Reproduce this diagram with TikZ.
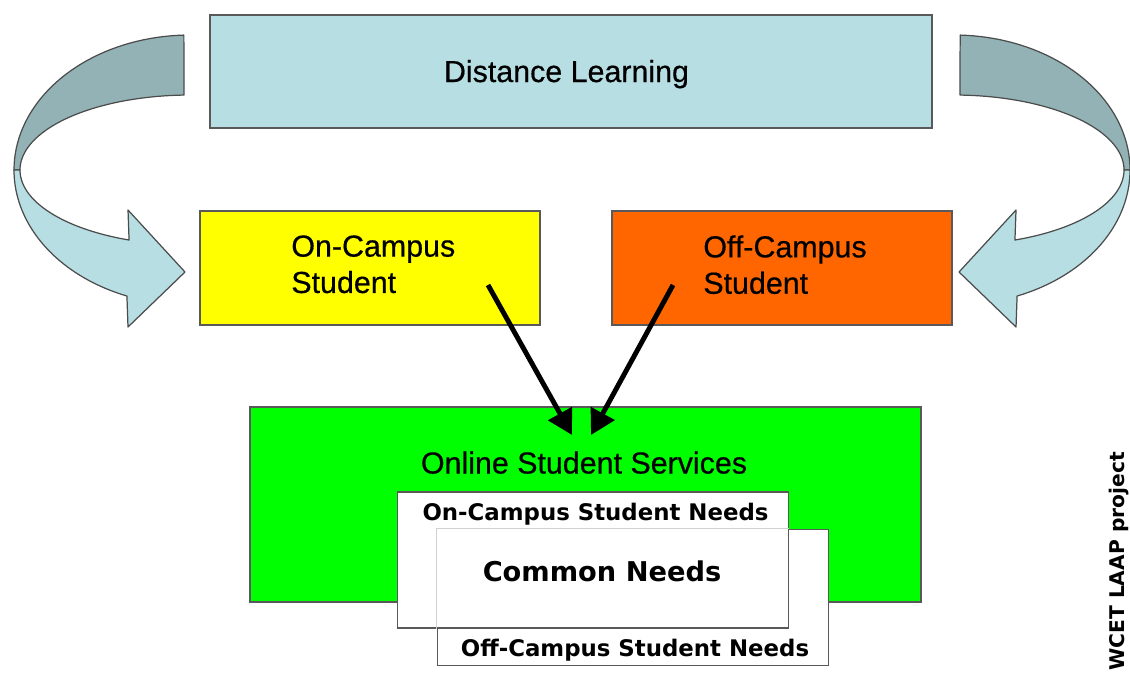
\documentclass[tikz,border=0pt]{standalone}
\usepackage{fontspec}
\setmainfont{Liberation Sans}[FakeBold=0.5]
\newfontfamily\verdfont{DejaVu Sans}
\usetikzlibrary{positioning}
\usetikzlibrary{arrows.meta}
\definecolor{paleblue}{RGB}{183,222,227}
\definecolor{darkband}{RGB}{146,178,182}
\definecolor{campusyellow}{RGB}{255,255,0}
\definecolor{campusorange}{RGB}{255,102,0}
\definecolor{servgreen}{RGB}{0,255,0}
\tikzset{basic/.style={draw=black!65,line width=0.9pt,inner sep=0pt}}
\tikzset{header/.style={basic,fill=paleblue,minimum width=144.4mm,minimum height=22.6mm}}
\tikzset{student/.style={basic,minimum width=68mm,minimum height=22.8mm}}
\tikzset{needs/.style={basic,fill=white,minimum width=78.2mm,minimum height=27.2mm}}
\tikzset{bigtext/.style={font=\fontsize{17.3}{20.7}\selectfont,align=left,inner sep=0pt}}
\tikzset{needtext/.style={font=\verdfont\bfseries\fontsize{13}{15}\selectfont,inner sep=0pt}}
\tikzset{band/.style={draw=black!70,line width=0.7pt,line join=round}}
\tikzset{flow/.style={line width=2.8pt,-{Triangle[length=14pt,width=15pt]}}}
\newcommand{\turnarrow}{%
  \draw[band,fill=darkband] plot[domain=-92:-180,samples=40] ({190+176*cos(\x)},{170+135*sin(\x)})
    -- plot[domain=-180:-92,samples=40] ({190+170*cos(\x)},{170+75*sin(\x)}) -- cycle;
  \draw[band,fill=paleblue] plot[domain=180:111,samples=40] ({190+176*cos(\x)},{170+135*sin(\x)})
    -- (128,327) -- (185,272) -- (128,210)
    -- plot[domain=111:180,samples=40] ({190+170*cos(\x)},{170+75*sin(\x)}) -- cycle;}

\begin{document}
\begin{tikzpicture}[x=0.2mm,y=-0.2mm]
\useasboundingbox (0,0) rectangle (1130,673);
\turnarrow
\begin{scope}[xshift=228.8mm,xscale=-1]
  \turnarrow
\end{scope}
\node[header] (distance) at (571,71.5) {};
\node[bigtext,anchor=base] (distlabel) at (566.5,82) {Distance Learning};
\node[student,fill=campusyellow] (oncampus) at (370,268) {};
\node[bigtext,anchor=north west] (onlabel) at (291,235) {On-Campus\\Student};
\node[student,fill=campusorange] (offcampus) at (782,268) {};
\node[bigtext,anchor=north west] (offlabel) at (703,235) {Off-Campus\\Student};
\node[basic,fill=servgreen,minimum width=134.2mm,minimum height=39mm] (services) at (585.5,504.5) {};
\node[bigtext,anchor=base] (servlabel) at (584,473.5) {Online Student Services};
\node[needs] (offneeds) at (633,597.5) {};
\node[needs] (onneeds) at (593,560) {};
\draw[black!18,line width=0.6pt] (offneeds.west |- onneeds.south) -- (offneeds.north west) -- (offneeds.north -| onneeds.east);
\node[needtext,anchor=base] (onneedlabel) at (595.5,520) {On-Campus Student Needs};
\node[needtext,anchor=base,font=\verdfont\bfseries\fontsize{15.5}{18}\selectfont] (common) at (602,581.5) {Common Needs};
\node[needtext,anchor=base] (offneedlabel) at (635,656.5) {Off-Campus Student Needs};
\node[needtext,font=\verdfont\bfseries\fontsize{11.5}{14}\selectfont,rotate=90,anchor=south west] (wcet) at (1129.5,671) {WCET LAAP project};
\coordinate (onfrom) at (488,285);
\coordinate (onto) at (572,435);
\coordinate (offfrom) at (673,285);
\coordinate (offto) at (591,435);
\draw[flow] (onfrom) -- (onto);
\draw[flow] (offfrom) -- (offto);
\end{tikzpicture}
\end{document}
